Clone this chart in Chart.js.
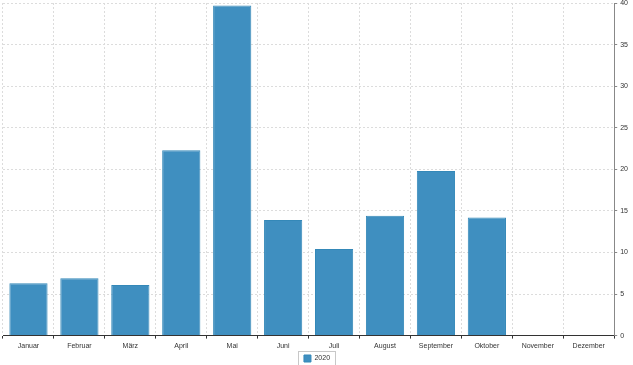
<!DOCTYPE html>
<html>
<head>
<meta charset="utf-8">
<script src="https://cdn.jsdelivr.net/npm/chart.js@4"></script>
<style>
  html, body { margin: 0; padding: 0; background: #fff; }
  #wrap { width: 633px; height: 365px; position: relative; }
</style>
</head>
<body>
<div id="wrap"><canvas id="chart" width="633" height="365"></canvas></div>
<script>
'use strict';

// data
const months = ['Januar', 'Februar', 'März', 'April', 'Mai', 'Juni', 'Juli', 'August', 'September', 'Oktober', 'November', 'Dezember'];
const values2020 = [6.3, 6.9, 6.1, 22.3, 39.7, 13.9, 10.4, 14.4, 19.8, 14.2, 0, 0];
const seriesName = '2020';

// draws a thin frame round the legend, like the original
const legendFrame = {
  id: 'legendFrame',
  afterDraw(chart) {
    const items = chart.legend.legendHitBoxes;
    if (!items || !items.length) return;
    const b = items[0];
    const ctx = chart.ctx;
    ctx.save();
    ctx.strokeStyle = '#c8c8c8';
    ctx.lineWidth = 1;
    ctx.strokeRect(Math.round(b.left) - 5.5, Math.round(b.top) - 3.5, Math.round(b.width) + 11, Math.round(b.height) + 7);
    ctx.restore();
  }
};

function main() {
  const ctx = document.getElementById('chart');

  window.monthChart = new Chart(ctx, {
    type: 'bar',
    data: {
      labels: months,
      datasets: [{
        label: seriesName,
        data: values2020,
        backgroundColor: '#3f8fc0',
        borderColor: '#3488b8',
        borderWidth: 1,
        barPercentage: 0.75,
        categoryPercentage: 1
      }]
    },
    plugins: [legendFrame],
    options: {
      responsive: false,
      animation: false,
      layout: {
        padding: { left: 3, right: 2, top: 3, bottom: -7 }
      },
      plugins: {
        legend: {
          position: 'bottom',
          labels: {
            color: '#333',
            boxWidth: 7,
            boxHeight: 7,
            padding: 2,
            font: { size: 7, family: 'Liberation Sans' }
          }
        },
        tooltip: { enabled: false }
      },
      scales: {
        x: {
          grid: {
            color: '#dcdcdc',
            offset: true,
            drawTicks: true,
            tickLength: 3,
            tickColor: '#333'
          },
          border: {
            display: true,
            color: '#333',
            dash: [2, 2]
          },
          ticks: {
            color: '#333',
            padding: 3,
            maxRotation: 0,
            font: { size: 7, family: 'Liberation Sans' }
          }
        },
        y: {
          position: 'right',
          min: 0,
          max: 40,
          // let the top label run up to the edge, as in the original
          afterFit(scale) {
            scale.paddingTop = 0;
          },
          ticks: {
            stepSize: 5,
            color: '#333',
            padding: 3,
            font: { size: 7, family: 'Liberation Sans' }
          },
          grid: {
            color: '#dcdcdc',
            tickLength: 3,
            tickColor: '#888'
          },
          border: {
            display: true,
            color: '#888',
            dash: [2, 2]
          }
        }
      }
    }
  });
}

main();
</script>
</body>
</html>
